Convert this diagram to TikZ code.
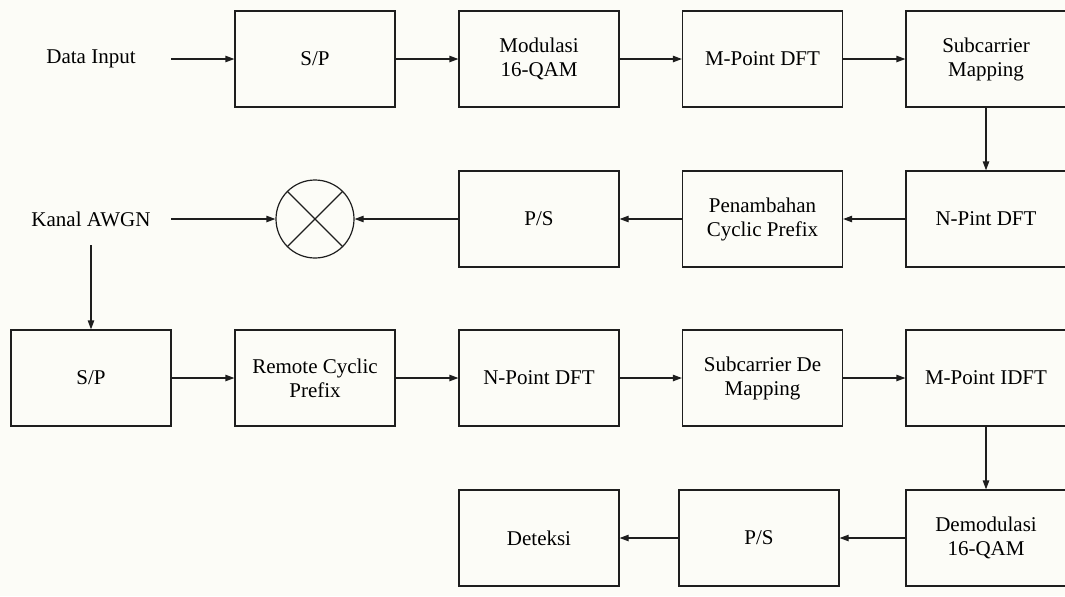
\documentclass[tikz,border=0pt]{standalone}
\usepackage{fontspec}
\setmainfont{Liberation Serif}
\usetikzlibrary{arrows.meta}
\definecolor{paper}{RGB}{252,252,247}
\definecolor{ink}{RGB}{30,30,30}
\begin{document}
\begin{tikzpicture}[x=0.5pt,y=-0.5pt,
  font=\fontsize{10.5}{12}\selectfont,
  blockbox/.style={draw=ink,line width=0.6pt,minimum width=80pt,minimum height=48pt,
    align=center,inner sep=0pt},
  labelbox/.style={minimum width=80pt,minimum height=26pt,align=center,inner sep=0pt},
  mixer/.style={draw=ink,line width=0.6pt,circle,minimum size=39pt,inner sep=0pt},
  flow/.style={draw=ink,line width=0.6pt,-{Triangle[length=4.5pt,width=3.2pt]}}]
\fill[paper] (0,0) rectangle (1065,596);
\useasboundingbox (0,0) rectangle (1065,596);
\begin{scope}
\clip (0,0) rectangle (1065,596);
% transmitter chain
\node[labelbox] (in) at (91,59) {Data Input};
\node[blockbox] (sp1) at (315,59) {S/P};
\node[blockbox] (mod) at (539,59) {Modulasi\\16-QAM};
\node[blockbox] (mdft) at (762.5,59) {M-Point DFT};
\node[blockbox] (scm) at (986,59) {Subcarrier\\Mapping};
\node[blockbox] (npdft) at (986,219) {N-Pint DFT};
\node[blockbox] (cp) at (762.5,219) {Penambahan\\Cyclic Prefix};
\node[blockbox] (ps1) at (539,219) {P/S};
\node[mixer] (mix) at (315,219) {};
\node[labelbox] (awgn) at (91,219) {Kanal AWGN};
% receiver chain
\node[blockbox] (sp2) at (91,378) {S/P};
\node[blockbox] (rcp) at (315,378) {Remote Cyclic\\Prefix};
\node[blockbox] (npt) at (539,378) {N-Point DFT};
\node[blockbox] (scdm) at (762.5,378) {Subcarrier De\\Mapping};
\node[blockbox] (midft) at (986,378) {M-Point IDFT};
\node[blockbox] (demod) at (986,538) {Demodulasi\\16-QAM};
\node[blockbox] (ps2) at (759,538) {P/S};
\node[blockbox] (det) at (539,538) {Deteksi};
% mixer cross
\draw[ink,line width=0.6pt] (mix.north west) -- (mix.south east)
  (mix.north east) -- (mix.south west);
% connectors
\draw[flow] (in) -- (sp1);
\draw[flow] (sp1) -- (mod);
\draw[flow] (mod) -- (mdft);
\draw[flow] (mdft) -- (scm);
\draw[flow] (scm) -- (npdft);
\draw[flow] (npdft) -- (cp);
\draw[flow] (cp) -- (ps1);
\draw[flow] (ps1) -- (mix);
\draw[flow] (awgn) -- (mix);
\draw[flow] (awgn) -- (sp2);
\draw[flow] (sp2) -- (rcp);
\draw[flow] (rcp) -- (npt);
\draw[flow] (npt) -- (scdm);
\draw[flow] (scdm) -- (midft);
\draw[flow] (midft) -- (demod);
\draw[flow] (demod) -- (ps2);
\draw[flow] (ps2) -- (det);
\end{scope}
\end{tikzpicture}
\end{document}
